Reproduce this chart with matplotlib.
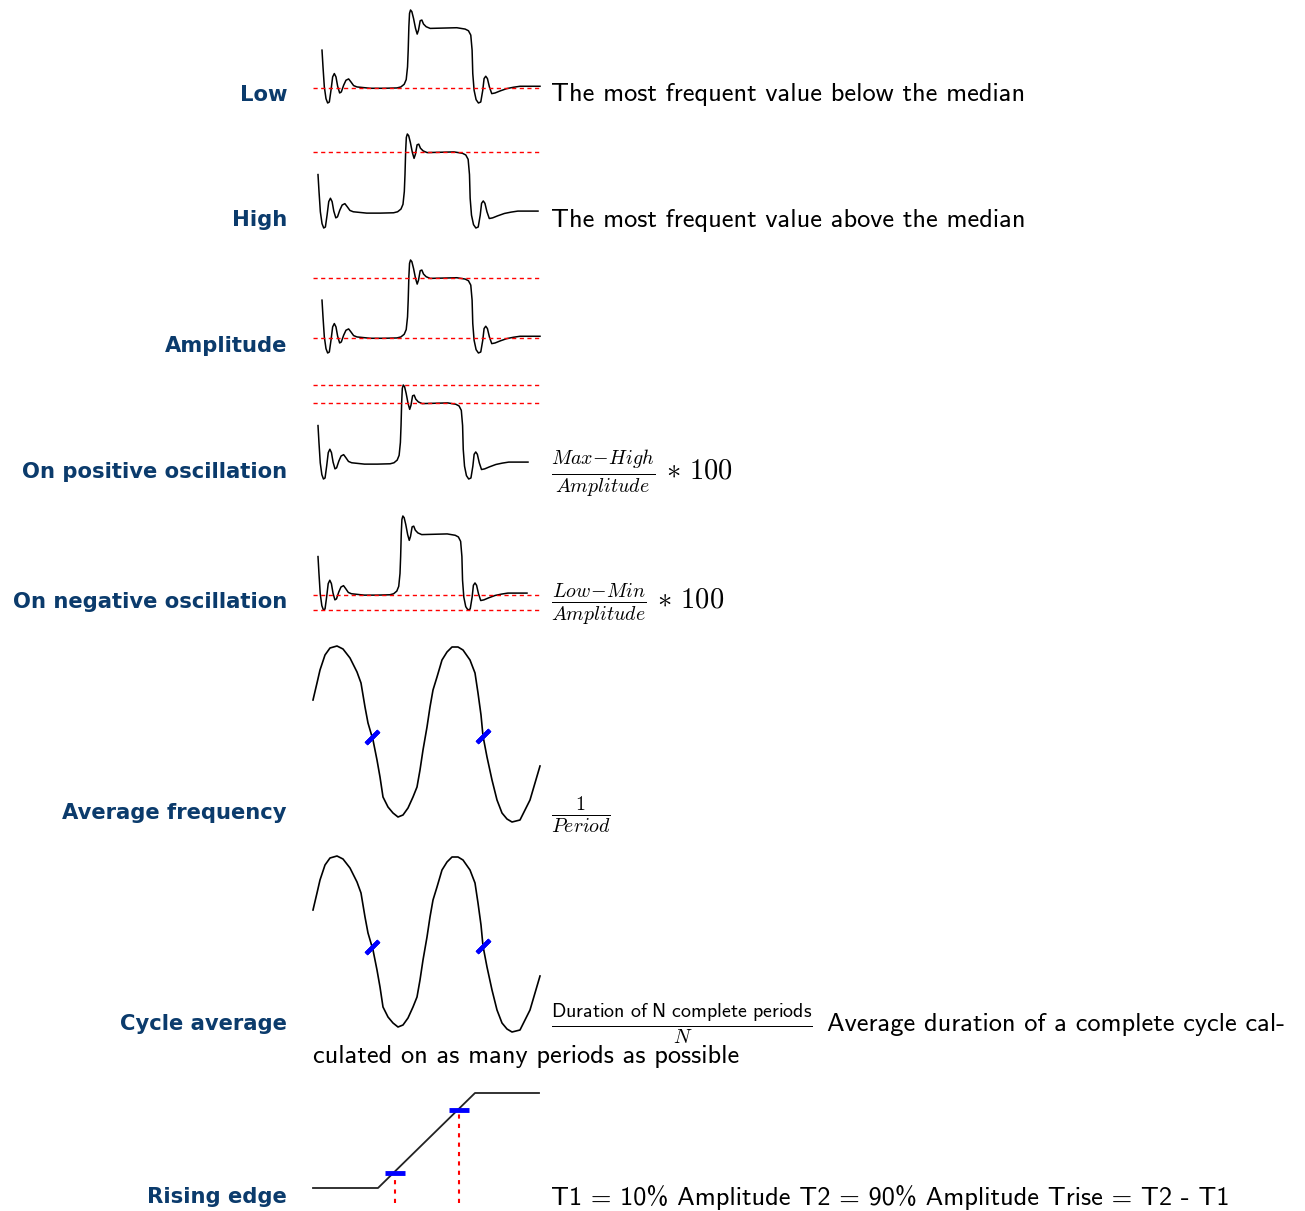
import matplotlib
matplotlib.use("Agg")
import matplotlib.pyplot as plt

plt.rcParams["mathtext.fontset"] = "cm"

# row labels and descriptions
labels = ["Low", "High", "Amplitude", "On positive oscillation", "On negative oscillation",
          "Average frequency", "Cycle average", "Rising edge"]
desc_low = "The most frequent value below the median"
desc_high = "The most frequent value above the median"
formula_pos = r"$\frac{Max\!-\!High}{Amplitude}\,\ast\,100$"
formula_neg = r"$\frac{Low\!-\!Min}{Amplitude}\,\ast\,100$"
formula_freq = r"$\frac{1}{Period}$"
formula_cycle = r"$\frac{\mathsf{Duration\ of\ N\ complete\ periods}}{N}$"
desc_cycle_1 = "Average duration of a complete cycle cal-"
desc_cycle_2 = "culated on as many periods as possible"
desc_rise = "T1 = 10% Amplitude T2 = 90% Amplitude Trise = T2 - T1"

# step response signal
wave_t = [0, 3, 7, 12, 17, 22, 27, 32, 37, 42, 47, 53, 58, 65, 72, 80, 87, 95, 105, 125,
          145, 185, 225, 237, 247, 253, 257, 259, 261, 263, 266, 270, 275, 281, 286, 290,
          295, 300, 305, 313, 325, 365, 405, 430, 440, 447, 451, 453, 457, 463, 470, 477,
          483, 487, 492, 497, 503, 510, 520, 535, 555, 575, 595, 655]
wave_v = [160, 110, 50, 15, 2, 5, 40, 80, 90, 80, 52, 32, 35, 55, 70, 74, 65, 54, 50, 48,
          46, 46, 47, 50, 58, 72, 110, 160, 230, 270, 280, 275, 255, 225, 208, 220,
          248, 250, 238, 230, 225, 226, 227, 223, 218, 205, 160, 90, 40, 12, 2, 5,
          40, 75, 82, 75, 50, 30, 32, 38, 45, 49, 52, 52]
LOW, HIGH, MAX, MIN = 47, 226, 280, 2

# sine signal
sine_t = [0, 4, 7, 12, 17, 24, 30, 37, 44, 48, 52, 55, 60, 64, 67, 70, 75, 80, 85, 90,
          95, 100, 104, 107, 110, 114, 117, 120, 124, 129, 134, 139, 145, 150, 157, 162,
          165, 168, 170, 174, 179, 184, 189, 194, 199, 207, 212, 217, 222, 227]
sine_v = [32, 49, 62, 77, 84, 86, 83, 74, 60, 49, 25, 9, -8, -28, -45, -65, -75, -81, -85,
          -83, -76, -65, -55, -38, -18, 5, 25, 42, 55, 72, 80, 85, 85, 82, 72, 59,
          39, 17, -4, -25, -48, -68, -81, -87, -90, -88, -78, -68, -51, -34]
cross_t = [59, 170]
cross_v = [-5, -4]

# rising edge
edge_t = [0, 65, 162, 226]
edge_v = [0, 0, 95, 95]
t10, v10 = 82, 15
t90, v90 = 146, 78

W, H = 1305, 1211
fig = plt.figure(figsize=(W / 100, H / 100), dpi=100)

label_color = "#0b3b6c"
row_y = [95, 220, 346, 472, 602, 813, 1024, 1197]
sans = ["cmss10", "DejaVu Sans"]


def px_axes(x0, y0, x1, y1):
    ax = fig.add_axes([x0 / W, 1 - y1 / H, (x1 - x0) / W, (y1 - y0) / H])
    ax.axis("off")
    return ax


def step_panel(x0, x1, y0, y1, levels):
    ax = px_axes(x0, y0, x1, y1)
    ax.plot(wave_t, wave_v, color="black", lw=1.1, clip_on=False)
    ax.set_xlim(0, 655)
    ax.set_ylim(MIN, MAX)
    f0 = (313 - x0) / (x1 - x0)
    f1 = (540 - x0) / (x1 - x0)
    for lv in levels:
        ax.axhline(lv, f0, f1, color="red", lw=1.0, ls=(0, (3, 2.5)), clip_on=False)
    return ax


step_panel(322, 540, 10, 103, [LOW])
step_panel(318, 538, 134, 228, [HIGH])
step_panel(322, 540, 260, 353, [HIGH, LOW])
step_panel(318, 528, 385, 479, [MAX, HIGH])
step_panel(318, 527, 516, 610, [LOW, MIN])


def sine_panel(y0):
    ax = px_axes(313, y0, 540, y0 + 176)
    ax.plot(sine_t, sine_v, color="black", lw=1.2, clip_on=False)
    ax.plot(cross_t, cross_v, ls="none", marker=(2, 2, -45), ms=13, mew=3,
            color="blue", clip_on=False)
    ax.set_xlim(0, 227)
    ax.set_ylim(-90, 86)


sine_panel(646)
sine_panel(856)

ax = px_axes(313, 1093, 539, 1203)
ax.plot(edge_t, edge_v, color="#222222", lw=1.3, clip_on=False)
ax.vlines([t10, t90], -15, [v10, v90], color="red", lw=1.5, ls=(0, (2, 2.5)))
ax.plot([t10, t90], [v10, v90], ls="none", marker="_", ms=14, mew=3.5, color="blue")
ax.set_xlim(0, 226)
ax.set_ylim(-15, 95)

# text
for name, y in zip(labels, row_y):
    fig.text(287 / W, 1 - y / H, name, ha="right", va="center", fontsize=15.2,
             fontweight="bold", color=label_color, family="DejaVu Sans")


def put(x, y, s, fs=19):
    fig.text(x / W, 1 - y / H, s, ha="left", va="center", fontsize=fs, color="black",
             family=sans)


mfs = 20.5
put(551, row_y[0], desc_low)
put(551, row_y[1], desc_high)
put(551, row_y[3] + 2, formula_pos, mfs)
put(551, row_y[4] + 2, formula_neg, mfs)
put(551, row_y[5] + 2, formula_freq, mfs)
put(551, row_y[6], formula_cycle, mfs)
put(827, row_y[6], desc_cycle_1)
put(313, 1057, desc_cycle_2)
put(551, row_y[7], desc_rise)

fig.savefig("out.png", dpi=100)
